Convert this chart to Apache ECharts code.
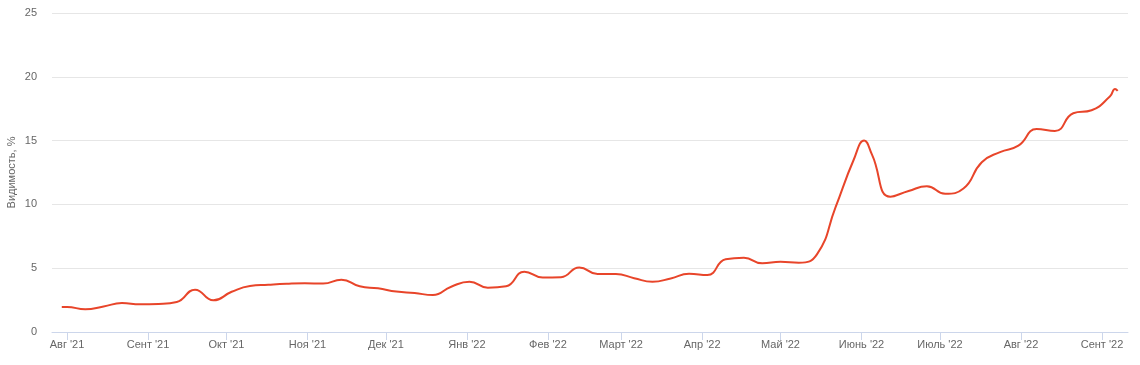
<!DOCTYPE html>
<html>
<head>
<meta charset="utf-8">
<script src="https://cdn.jsdelivr.net/npm/echarts@6/dist/echarts.min.js"></script>
<style>
html,body{margin:0;padding:0;background:#fff;}
#chart{width:1140px;height:365px;}
</style>
</head>
<body>
<div id="chart"></div>
<script>
// Data (weekly visibility, %)
const dates = [
  '2021-07-30','2021-08-01','2021-08-08','2021-08-15','2021-08-22','2021-08-29','2021-09-05','2021-09-12',
  '2021-09-19','2021-09-26','2021-10-03','2021-10-10','2021-10-17','2021-10-24','2021-10-31','2021-11-07',
  '2021-11-14','2021-11-21','2021-11-28','2021-12-05','2021-12-12','2021-12-19','2021-12-26','2022-01-02',
  '2022-01-09','2022-01-16','2022-01-23','2022-01-30','2022-02-06','2022-02-13','2022-02-20','2022-02-27',
  '2022-03-06','2022-03-13','2022-03-20','2022-03-27','2022-04-03','2022-04-10','2022-04-17','2022-04-24',
  '2022-05-01','2022-05-08','2022-05-15','2022-05-22','2022-05-29','2022-06-02','2022-06-05','2022-06-12','2022-06-19',
  '2022-06-26','2022-07-03','2022-07-10','2022-07-17','2022-07-24','2022-07-31','2022-08-07','2022-08-14',
  '2022-08-21','2022-08-28','2022-09-04','2022-09-06','2022-09-07'
];
const visibility = [
  1.96, 1.96, 1.78, 2.00, 2.27, 2.17, 2.20, 2.35,
  3.32, 2.48, 3.15, 3.60, 3.70, 3.78, 3.82, 3.80,
  4.10, 3.58, 3.42, 3.17, 3.05, 2.90, 3.55, 3.94,
  3.47, 3.58, 4.73, 4.27, 4.30, 5.06, 4.54, 4.54,
  4.22, 3.94, 4.20, 4.57, 4.46, 5.70, 5.82, 5.38,
  5.50, 5.43, 6.10, 9.75, 13.50, 15.00, 13.90, 10.60, 11.05,
  11.42, 10.83, 11.25, 13.30, 14.10, 14.60, 15.90, 15.75,
  17.14, 17.38, 18.45, 19.05, 18.90
];
const monthTickDates = [
  '2021-08-01','2021-09-01','2021-10-01','2021-11-01','2021-12-01','2022-01-01','2022-02-01',
  '2022-03-01','2022-04-01','2022-05-01','2022-06-01','2022-07-01','2022-08-01','2022-09-01'
];
const monthTickLabels = [
  "Авг '21","Сент '21","Окт '21","Ноя '21","Дек '21","Янв '22","Фев '22",
  "Март '22","Апр '22","Май '22","Июнь '22","Июль '22","Авг '22","Сент '22"
];
const yTicks = [0, 5, 10, 15, 20, 25];
const yAxisTitle = 'Видимость, %';

const DAY = 86400000;
const base = Date.parse('2021-08-01T00:00:00Z');
const toDay = d => (Date.parse(d + 'T00:00:00Z') - base) / DAY;
const seriesData = dates.map((d, i) => [toDay(d), visibility[i]]);
const tickDays = monthTickDates.map(toDay);
const labelMap = {};
tickDays.forEach((v, i) => { labelMap[v] = monthTickLabels[i]; });

const font = '"Liberation Sans", Arial, sans-serif';
const chart = echarts.init(document.getElementById('chart'), null, {renderer: 'canvas'});
chart.setOption({
  animation: false,
  backgroundColor: '#ffffff',
  grid: {left: 52, right: 12, top: 13, bottom: 33, containLabel: false, outerBoundsMode: 'none'},
  xAxis: {
    type: 'value',
    min: -5.74,
    max: 405.95,
    axisLine: {show: true, lineStyle: {color: '#ccd6eb', width: 1}},
    axisTick: {show: true, customValues: tickDays, length: 8, lineStyle: {color: '#ccd6eb'}},
    axisLabel: {
      customValues: tickDays,
      margin: 7,
      color: '#666666',
      fontSize: 11,
      fontFamily: font,
      formatter: v => labelMap[v] || ''
    },
    splitLine: {show: false}
  },
  yAxis: {
    type: 'value',
    min: yTicks[0],
    max: yTicks[yTicks.length - 1],
    interval: 5,
    name: yAxisTitle,
    nameLocation: 'middle',
    nameGap: 35,
    nameRotate: 90,
    nameMoveOverlap: false,
    nameTextStyle: {color: '#666666', fontSize: 11, fontFamily: font},
    axisLine: {show: false},
    axisTick: {show: false},
    axisLabel: {color: '#666666', fontSize: 11, fontFamily: font, margin: 15},
    splitLine: {lineStyle: {color: '#e6e6e6', width: 1}}
  },
  series: [{
    type: 'line',
    data: seriesData,
    smooth: 0.5,
    showSymbol: false,
    symbol: 'none',
    lineStyle: {color: '#e8452a', width: 2},
    z: 3
  }]
});
</script>
</body>
</html>
